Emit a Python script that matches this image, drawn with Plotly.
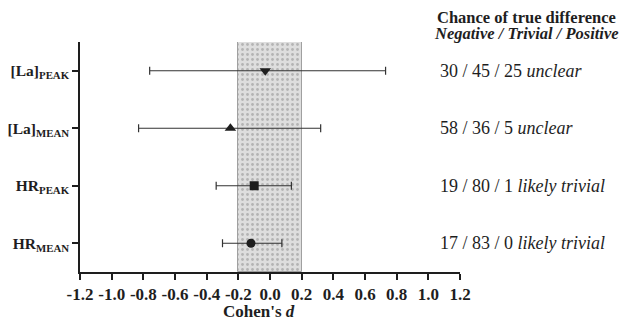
import plotly.graph_objects as go

labels = ["HR<sub>MEAN</sub>", "HR<sub>PEAK</sub>", "[La]<sub>MEAN</sub>", "[La]<sub>PEAK</sub>"]
ypos = [1, 2, 3, 4]
d_values = [-0.12, -0.10, -0.25, -0.03]
ci_low = [-0.30, -0.34, -0.83, -0.76]
ci_high = [0.075, 0.135, 0.32, 0.73]
symbols = ["circle", "square", "triangle-up", "triangle-down"]
marker_sizes = [9, 9, 10, 10]
chances = ["17 / 83 / 0 <i>likely trivial</i>", "19 / 80 / 1 <i>likely trivial</i>",
           "58 / 36 / 5 <i>unclear</i>", "30 / 45 / 25 <i>unclear</i>"]
xticks = [-1.2, -1.0, -0.8, -0.6, -0.4, -0.2, 0.0, 0.2, 0.4, 0.6, 0.8, 1.0, 1.2]
trivial_lo, trivial_hi = -0.2, 0.2

SERIF = "Liberation Serif, Times New Roman, Times, serif"
INK = "#1e1e1e"

OFF = 8  # page body margin offset
W, H = 630 - OFF, 327 - OFF
L, R, T, B = 80 - OFF, 460 - OFF, 42 - OFF, 272 - OFF  # plot area in figure pixels


def px(xp):
    return (xp - OFF - L) / (R - L)


def py(yp):
    return (B - (yp - OFF)) / (B - T)


fig = go.Figure()

# trivial band (dotted shading)
fig.add_trace(go.Bar(
    x=[(trivial_lo + trivial_hi) / 2], y=[4.0], base=[0.5], width=[trivial_hi - trivial_lo],
    marker=dict(color="#dcdcdc", line=dict(color="#a0a0a0", width=1),
                pattern=dict(shape=".", fgcolor="#8a8a8a", bgcolor="#dedede", size=5, solidity=0.25)),
    hoverinfo="skip", showlegend=False,
))

for i in range(len(ypos)):
    fig.add_trace(go.Scatter(
        x=[d_values[i]], y=[ypos[i]], mode="markers",
        marker=dict(symbol=symbols[i], size=marker_sizes[i], color=INK),
        error_x=dict(type="data", symmetric=False,
                     array=[ci_high[i] - d_values[i]], arrayminus=[d_values[i] - ci_low[i]],
                     color="#333333", thickness=1.2, width=4),
        showlegend=False,
    ))

for i in range(len(ypos)):
    fig.add_annotation(x=px(438), xref="paper", y=ypos[i], yref="y",
                       text=chances[i], showarrow=False, xanchor="left", yanchor="middle",
                       font=dict(family=SERIF, size=18, color=INK))

fig.add_annotation(x=px(526), xref="paper", y=py(7), yref="paper", yanchor="top",
                   xanchor="center", showarrow=False, borderpad=0,
                   text="<b>Chance of true difference</b>",
                   font=dict(family=SERIF, size=16.5, color=INK))
fig.add_annotation(x=px(526), xref="paper", y=py(34), yref="paper", yanchor="middle",
                   xanchor="center", showarrow=False, borderpad=0,
                   text="<b><i>Negative / Trivial / Positive</i></b>",
                   font=dict(family=SERIF, size=16.5, color=INK))

# x-axis title
fig.add_annotation(x=px(259), xref="paper", y=py(311), yref="paper", yanchor="middle",
                   xanchor="center", showarrow=False,
                   text="<b>Cohen's <i>d</i></b>",
                   font=dict(family=SERIF, size=17, color=INK))

fig.update_layout(
    width=W, height=H,
    margin=dict(l=L, r=W - R, t=T, b=H - B, pad=0),
    paper_bgcolor="white", plot_bgcolor="white",
    font=dict(family=SERIF, color=INK),
    bargap=0,
    xaxis=dict(range=[-1.2, 1.2], tickvals=xticks,
               ticktext=["<b>%.1f</b>" % v for v in xticks],
               tickfont=dict(family=SERIF, size=17, color=INK),
               ticks="outside", ticklen=6, tickwidth=1.5, tickcolor=INK,
               showline=True, linecolor=INK, linewidth=1.5, showgrid=False, zeroline=False,
               automargin=False),
    yaxis=dict(range=[0.5, 4.5], tickvals=ypos, ticktext=["<b>%s</b>" % l for l in labels],
               tickfont=dict(family=SERIF, size=15.5, color=INK),
               ticks="outside", ticklen=6, tickwidth=1.5, tickcolor=INK,
               showline=True, linecolor=INK, linewidth=1.5, showgrid=False, zeroline=False,
               automargin=False),
)

fig.write_html("out.html")
